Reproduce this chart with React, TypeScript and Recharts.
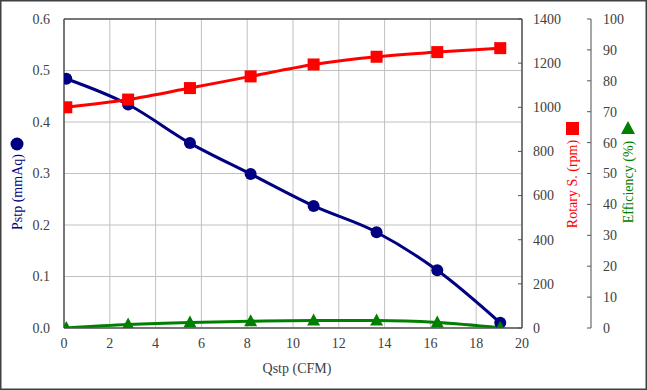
import React from 'react';
import { ComposedChart, Line, XAxis, YAxis, CartesianGrid, ReferenceLine } from 'recharts';

const qstp = [0.1, 2.8, 5.5, 8.15, 10.9, 13.65, 16.3, 19.05];
const pstp = [0.484, 0.434, 0.359, 0.299, 0.237, 0.186, 0.112, 0.01];
const rotary = [1000, 1035, 1087, 1140, 1194, 1229, 1250, 1268];
const efficiency = [0, 1.1, 1.8, 2.2, 2.4, 2.4, 1.8, 0.1];

const xTicks = [0, 2, 4, 6, 8, 10, 12, 14, 16, 18, 20];
const pTicks = [0, 0.1, 0.2, 0.3, 0.4, 0.5, 0.6];
const rTicks = [0, 200, 400, 600, 800, 1000, 1200, 1400];
const eTicks = [0, 10, 20, 30, 40, 50, 60, 70, 80, 90, 100];

const data = qstp.map((q, i) => ({ q, p: pstp[i], r: rotary[i], e: efficiency[i] }));

const NAVY = '#000080';
const RED = '#FF0000';
const GREEN = '#008000';
const TXT = '#404040';
const FONT = 'Liberation Serif';

const SquareDot = (props: any) => {
  const { cx, cy, index } = props;
  if (cx == null || cy == null) return <g key={index} />;
  return <rect key={index} x={cx - 6} y={cy - 6} width={12} height={12} fill={RED} />;
};

const CircleDot = (props: any) => {
  const { cx, cy, index } = props;
  if (cx == null || cy == null) return <g key={index} />;
  return <circle key={index} cx={cx} cy={cy} r={6} fill={NAVY} />;
};

const TriDot = (props: any) => {
  const { cx, cy, index } = props;
  if (cx == null || cy == null) return <g key={index} />;
  return <polygon key={index} points={`${cx},${cy - 7} ${cx + 6.5},${cy + 5} ${cx - 6.5},${cy + 5}`} fill={GREEN} />;
};

const SideTick = (props: any) => {
  const { x, y, payload, gap } = props;
  const ax = x - gap;
  return (
    <g>
      <line x1={ax - 4} x2={ax} y1={y} y2={y} stroke="#555" />
      <text x={x} y={y} dy="0.35em" textAnchor="start" fill={TXT} fontSize={14} fontFamily={FONT}>
        {payload.value}
      </text>
    </g>
  );
};

const XTick = (props: any) => {
  const { x, y, payload } = props;
  return (
    <text x={x} y={y} dy="0.71em" textAnchor="middle" fill={TXT} fontSize={14} fontFamily={FONT}>
      {payload.value}
    </text>
  );
};

const LTick = (props: any) => {
  const { x, y, payload } = props;
  return (
    <text x={x} y={y} dy="0.35em" textAnchor="end" fill={TXT} fontSize={14} fontFamily={FONT}>
      {Number(payload.value).toFixed(1)}
    </text>
  );
};

export default function App() {
  return (
    <div style={{ position: 'absolute', left: 0, top: 0, width: 647, height: 390, background: '#fff' }}>
      <ComposedChart
        width={647}
        height={390}
        data={data}
        margin={{ top: 19, right: 0, bottom: 0, left: 0 }}
      >
        <CartesianGrid yAxisId="ax1" stroke="#c0c0c0" strokeWidth={1} horizontalValues={pTicks} verticalValues={xTicks} />
        <XAxis
          dataKey="q"
          type="number"
          domain={[0, 20]}
          ticks={xTicks}
          allowDataOverflow
          height={62}
          axisLine={{ stroke: '#555', strokeWidth: 1.5 }}
          tickLine={false}
          tickSize={0}
          tickMargin={10}
          tick={<XTick />}
        />
        <YAxis
          yAxisId="ax1"
          orientation="left"
          width={64}
          domain={[0, 0.6]}
          ticks={pTicks}
          allowDataOverflow
          axisLine={{ stroke: '#555', strokeWidth: 1.5 }}
          tickLine={false}
          tickSize={0}
          tickMargin={14}
          tick={<LTick />}
        />
        <YAxis
          yAxisId="ax2"
          orientation="right"
          width={69}
          domain={[0, 1400]}
          ticks={rTicks}
          allowDataOverflow
          axisLine={{ stroke: '#555', strokeWidth: 1.5 }}
          tickLine={false}
          tickSize={0}
          tickMargin={11}
          tick={<SideTick gap={11} />}
        />
        <YAxis
          yAxisId="ax3"
          orientation="right"
          width={56}
          domain={[0, 100]}
          ticks={eTicks}
          allowDataOverflow
          axisLine={{ stroke: '#888', strokeWidth: 1.5 }}
          tickLine={false}
          tickSize={0}
          tickMargin={12}
          tick={<SideTick gap={12} />}
        />
        <ReferenceLine yAxisId="ax1" y={0.6} stroke="#555" strokeWidth={1.5} />
        <Line
          yAxisId="ax1"
          dataKey="p"
          type="monotone"
          stroke={NAVY}
          strokeWidth={3}
          dot={<CircleDot />}
          activeDot={false}
          isAnimationActive={false}
        />
        <Line
          yAxisId="ax2"
          dataKey="r"
          type="monotone"
          stroke={RED}
          strokeWidth={3}
          dot={<SquareDot />}
          activeDot={false}
          isAnimationActive={false}
        />
        <Line
          yAxisId="ax3"
          dataKey="e"
          type="monotone"
          stroke={GREEN}
          strokeWidth={3}
          dot={<TriDot />}
          activeDot={false}
          isAnimationActive={false}
        />
      </ComposedChart>
      <svg
        width={647}
        height={390}
        style={{ position: 'absolute', left: 0, top: 0, pointerEvents: 'none' }}
      >
        <rect x={0.75} y={0.75} width={645.5} height={388.5} fill="none" stroke="#404040" strokeWidth={1.5} />
        <circle cx={17} cy={144} r={6.5} fill={NAVY} />
        <text transform="translate(22,192) rotate(-90)" textAnchor="middle" fill={NAVY} fontSize={14} fontFamily={FONT}>
          Pstp (mmAq)
        </text>
        <rect x={566} y={122} width={13} height={13} fill={RED} />
        <text transform="translate(577,184) rotate(-90)" textAnchor="middle" fill={RED} fontSize={14} fontFamily={FONT}>
          Rotary S. (rpm)
        </text>
        <polygon points="628,121 635,134 621,134" fill={GREEN} />
        <text transform="translate(633,182) rotate(-90)" textAnchor="middle" fill={GREEN} fontSize={14} fontFamily={FONT}>
          Efficiency (%)
        </text>
        <text x={297} y={373} textAnchor="middle" fill={TXT} fontSize={14} fontFamily={FONT}>
          Qstp (CFM)
        </text>
      </svg>
    </div>
  );
}
